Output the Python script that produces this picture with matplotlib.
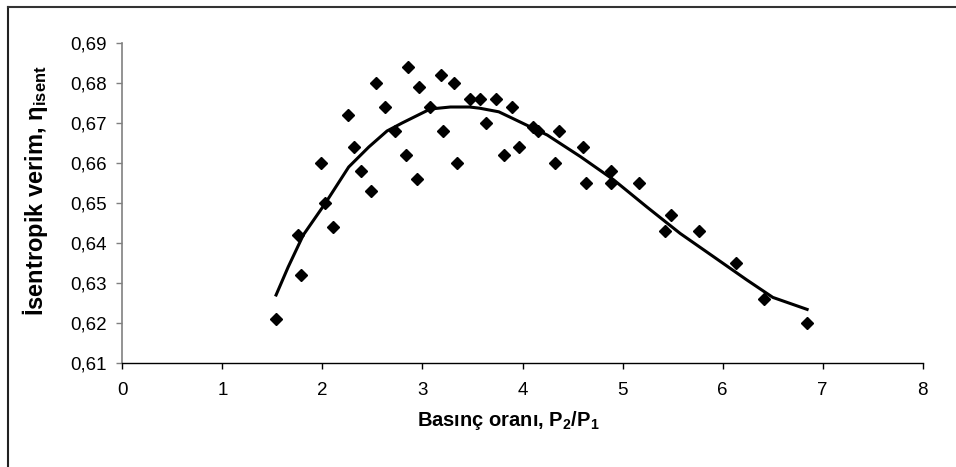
import matplotlib
matplotlib.use("Agg")
import matplotlib.pyplot as plt
from matplotlib.lines import Line2D
from matplotlib.ticker import FuncFormatter

plt.rcParams['font.family'] = ['Liberation Sans', 'DejaVu Sans']
plt.rcParams['mathtext.fontset'] = 'custom'
plt.rcParams['mathtext.rm'] = 'Liberation Sans'
plt.rcParams['mathtext.bf'] = 'Liberation Sans:bold'
plt.rcParams['mathtext.it'] = 'Liberation Sans:italic'
plt.rcParams['mathtext.default'] = 'bf'

# measured points
pressure_ratio = [1.536, 1.758, 1.788, 1.99, 2.03, 2.11, 2.252, 2.312, 2.388, 2.483,
                  2.534, 2.625, 2.725, 2.836, 2.856, 2.947, 2.967, 3.078, 3.189, 3.209,
                  3.32, 3.35, 3.471, 3.572, 3.632, 3.733, 3.813, 3.894, 3.964, 4.106,
                  4.156, 4.327, 4.368, 4.609, 4.63, 4.881, 4.881, 5.163, 5.425, 5.486,
                  5.768, 6.131, 6.418, 6.846]
efficiency = [0.621, 0.642, 0.632, 0.660, 0.650, 0.644, 0.672, 0.664, 0.658, 0.653,
              0.680, 0.674, 0.668, 0.662, 0.684, 0.656, 0.679, 0.674, 0.682, 0.668,
              0.680, 0.660, 0.676, 0.676, 0.670, 0.676, 0.662, 0.674, 0.664, 0.669,
              0.668, 0.660, 0.668, 0.664, 0.655, 0.658, 0.655, 0.655, 0.643, 0.647,
              0.643, 0.635, 0.626, 0.620]

# trend curve
curve_x = [1.536, 1.657, 1.808, 2.03, 2.262, 2.463, 2.645, 2.796, 3.078, 3.279,
           3.471, 3.572, 3.763, 3.914, 4.247, 4.579, 4.911, 5.244, 5.576, 5.909,
           6.241, 6.503, 6.846]
curve_y = [0.627, 0.634, 0.642, 0.650, 0.659, 0.664, 0.668, 0.670, 0.6735, 0.674,
           0.674, 0.6737, 0.6728, 0.671, 0.667, 0.6616, 0.6558, 0.649, 0.6424, 0.6366,
           0.6308, 0.6264, 0.6234]

x_ticks = [0, 1, 2, 3, 4, 5, 6, 7, 8]
y_ticks = [0.61, 0.62, 0.63, 0.64, 0.65, 0.66, 0.67, 0.68, 0.69]

fig = plt.figure(figsize=(9.56, 4.67), dpi=100)
ax = fig.add_axes([0.1281, 0.2227, 0.8369, 0.6852])

ax.plot(curve_x, curve_y, color='black', lw=2.2, zorder=2)
ax.plot(pressure_ratio, efficiency, linestyle='none', marker='D', markersize=6.3,
        color='black', zorder=3)

ax.set_xlim(0, 8)
ax.set_ylim(0.61, 0.69)
ax.set_xticks(x_ticks)
ax.set_yticks(y_ticks)
ax.xaxis.set_major_formatter(FuncFormatter(lambda v, p: f"{v:g}"))
ax.yaxis.set_major_formatter(FuncFormatter(lambda v, p: f"{v:.2f}".replace('.', ',')))
ax.tick_params(axis='both', direction='out', width=1, labelsize=13.5,
               labelcolor='black')
ax.tick_params(axis='y', color='#808080', length=4, pad=7)
ax.tick_params(axis='x', color='black', length=4.5, pad=9)

for s in ['top', 'right']:
    ax.spines[s].set_visible(False)
ax.spines['left'].set_color('#808080')
ax.spines['left'].set_linewidth(1.2)
ax.spines['bottom'].set_color('black')
ax.spines['bottom'].set_linewidth(1)

ax.set_xlabel(r"Basınç oranı, P$_2$/P$_1$", fontsize=14.5, fontweight='bold',
              va='center', ha='center')
ax.xaxis.set_label_coords(0.4825, -0.181)
ax.set_ylabel(r"İsentropik verim, $\eta_{isent}$", fontsize=17, fontweight='bold',
              va='center', ha='center', rotation_mode='anchor')
ax.yaxis.set_label_coords(-0.109, 0.54)

# figure frame (visible at top and left)
fig.add_artist(Line2D([7.5 / 956, 7.5 / 956], [0, 1 - 6.5 / 467], transform=fig.transFigure,
                      color='#222222', lw=1.5))
fig.add_artist(Line2D([7.5 / 956, 1], [1 - 6.5 / 467, 1 - 6.5 / 467], transform=fig.transFigure,
                      color='#333333', lw=1.5))

fig.savefig("out.png", dpi=100)
